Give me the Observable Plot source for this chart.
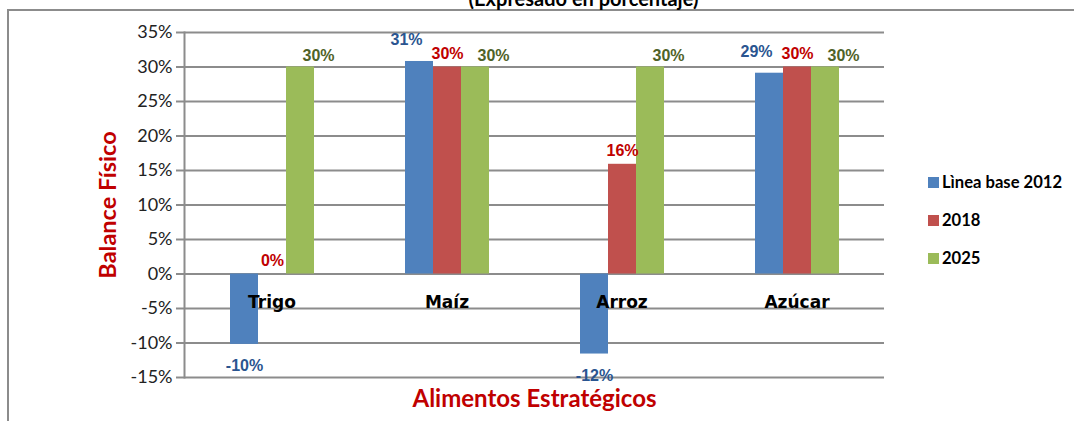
<!DOCTYPE html>
<html>
<head>
<meta charset="utf-8">
<script src="https://cdn.jsdelivr.net/npm/d3@7"></script>
<script src="https://cdn.jsdelivr.net/npm/@observablehq/plot@0.6"></script>
<style>
  body { margin: 0; background: #fff; }
  #wrap { position: relative; width: 1074px; height: 421px; overflow: hidden; background: #fff; }
  #wrap svg { position: absolute; left: 0; top: 0; }
  #border { position: absolute; left: 7px; top: 9px; width: 2000px; height: 1000px;
            border-left: 2px solid #8c8c8c; border-top: 2px solid #8c8c8c; }
  .lg { position: absolute; font-family: Lato, sans-serif; font-weight: bold; font-size: 16.6px;
        line-height: 16px; color: #000; white-space: nowrap; }
  .sw { position: absolute; width: 11px; height: 11px; }
</style>
</head>
<body>
<div id="wrap"><div id="border"></div></div>
<script>
// ---- data ----
const categories = ["Trigo", "Maíz", "Arroz", "Azúcar"];
const series = ["Lìnea base 2012", "2018", "2025"];
const base2012 = [-10.2, 30.8, -11.6, 29.1];
const v2018 = [0, 30, 15.9, 30];
const v2025 = [30, 30, 30, 30];
const yTicks = [-15, -10, -5, 0, 5, 10, 15, 20, 25, 30, 35];
const title = "(Expresado en porcentaje)";
const yLabel = "Balance Físico";
const xLabel = "Alimentos Estratégicos";

// ---- styles ----
const barColors = ["#4F81BD", "#C0504D", "#9BBB59"];
const labelColors = ["#2A5590", "#C00000", "#4F6228"];
const labelShiftX = [-13, 0, 18];   // label placement per series (positive values)
const labelShiftY = [-16, -8, -6];
const gridColor = "#8c8c8c";

const seriesValues = [base2012, v2018, v2025];
const rows = categories.flatMap((c, i) =>
  series.map((s, j) => ({cat: c, series: s, value: seriesValues[j][i]})));

const labelMarks = series.flatMap((s, j) => {
  const sel = rows.filter(r => r.series === s);
  const common = {
    fx: "cat", x: "series", y: "value",
    text: d => `${Math.round(d.value)}%`,
    fill: labelColors[j], fontWeight: "bold", fontSize: 16,
    fontFamily: "'Liberation Sans', Arial, sans-serif", lineAnchor: "bottom"
  };
  return [
    Plot.text(sel.filter(r => r.value >= 0), {...common, dx: labelShiftX[j], dy: labelShiftY[j]}),
    Plot.text(sel.filter(r => r.value < 0), {...common, dy: 27})
  ];
});

const chart = Plot.plot({
  width: 1074,
  height: 421,
  marginTop: 32,
  marginBottom: 44,
  marginLeft: 182,
  marginRight: 189,
  style: {background: "transparent", overflow: "visible"},
  fx: {domain: categories, padding: 0, axis: null},
  x: {domain: series, paddingInner: 0, paddingOuter: 1.53, axis: null},
  y: {domain: [-15, 35], axis: null},
  color: {domain: series, range: barColors},
  marks: [
    Plot.ruleY(yTicks, {stroke: gridColor, strokeWidth: 2}),
    Plot.barY(rows, {fx: "cat", x: "series", y: "value", fill: "series"}),
    Plot.frame({anchor: "left", stroke: gridColor, strokeWidth: 2, facetAnchor: "left"}),
    Plot.axisY({
      ticks: yTicks, tickFormat: d => `${d}%`, tickSize: 8, tickPadding: 4,
      stroke: gridColor, strokeWidth: 2, fill: "#222", fontSize: 18,
      fontFamily: "Lato, sans-serif", label: null
    }),
    ...labelMarks,
    Plot.text(categories, {
      fx: d => d, y: () => 0, text: d => d, dy: 34, lineAnchor: "bottom",
      fontWeight: "bold", fontSize: 17, fontFamily: "'DejaVu Sans', sans-serif", fill: "#000"
    }),
    Plot.text([yLabel], {
      fx: () => categories[0], frameAnchor: "left", rotate: -90, dx: -69,
      textAnchor: "middle", lineAnchor: "bottom", text: d => d,
      fill: "#C00000", fontWeight: "bold", fontSize: 23.5, fontFamily: "Lato, sans-serif"
    }),
    Plot.text([xLabel], {
      fx: () => categories[1], frameAnchor: "bottom-right", dy: 29,
      textAnchor: "middle", lineAnchor: "bottom", text: d => d,
      fill: "#C00000", fontWeight: "bold", fontSize: 24, fontFamily: "Lato, sans-serif"
    }),
    Plot.text([title], {
      fx: () => categories[1], frameAnchor: "top-right", dx: 49, dy: -27,
      textAnchor: "middle", lineAnchor: "bottom", text: d => d,
      fill: "#000", fontWeight: "bold", fontSize: 20, fontFamily: "Lato, sans-serif"
    })
  ]
});

const wrap = document.getElementById("wrap");
wrap.appendChild(chart);

// legend
const legendTops = [177, 215, 253];
series.forEach((s, j) => {
  const sw = document.createElement("div");
  sw.className = "sw";
  sw.style.left = "928px";
  sw.style.top = legendTops[j] + "px";
  sw.style.background = barColors[j];
  wrap.appendChild(sw);
  const t = document.createElement("div");
  t.className = "lg";
  t.style.left = "942px";
  t.style.top = (legendTops[j] - 3) + "px";
  t.textContent = s;
  wrap.appendChild(t);
});
</script>
</body>
</html>
